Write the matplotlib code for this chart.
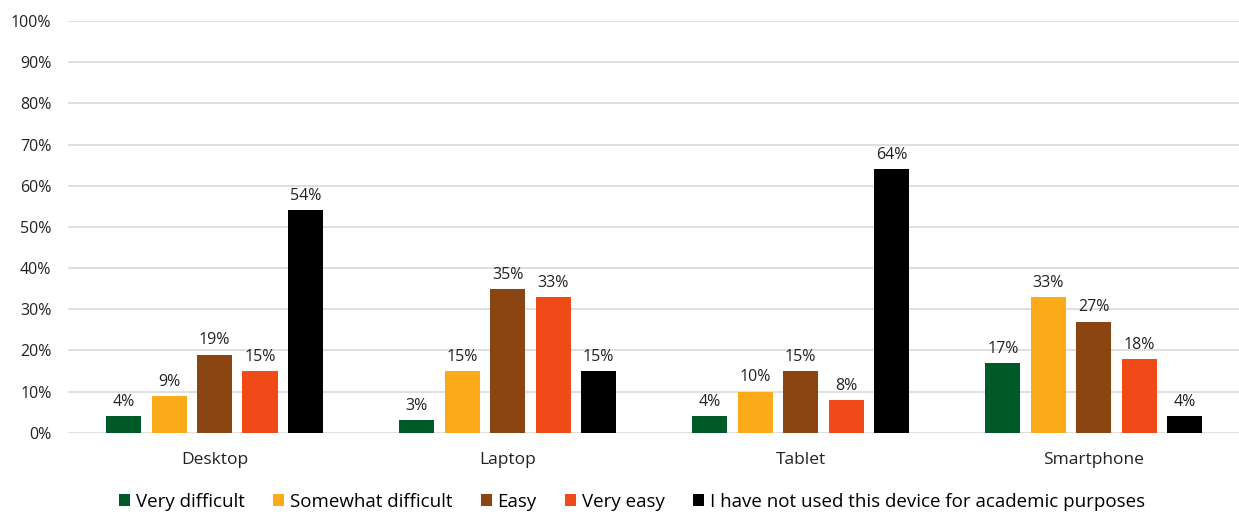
import matplotlib
matplotlib.use("Agg")
import matplotlib.pyplot as plt
import numpy as np

devices = ["Desktop", "Laptop", "Tablet", "Smartphone"]
series = ["Very difficult", "Somewhat difficult", "Easy", "Very easy",
          "I have not used this device for academic purposes"]
very_difficult = [4, 3, 4, 17]
somewhat_difficult = [9, 15, 10, 33]
easy = [19, 35, 15, 27]
very_easy = [15, 33, 8, 18]
not_used = [54, 15, 64, 4]
values = [very_difficult, somewhat_difficult, easy, very_easy, not_used]
colors = ["#005A28", "#FBAA19", "#8B4513", "#F04A19", "#000000"]

plt.rcParams['font.family'] = ['Open Sans', 'DejaVu Sans']

fig = plt.figure(figsize=(12.39, 5.14), dpi=100)
ax = fig.add_axes([0.055, 0.158, 0.946, 0.801])

x = np.arange(len(devices))
pitch = 0.155
width = 0.12
for i, (name, vals, c) in enumerate(zip(series, values, colors)):
    pos = x + (i - 2) * pitch
    bars = ax.bar(pos, vals, width, color=c, label=name, zorder=3)
    for b, v in zip(bars, vals):
        ax.text(b.get_x() + b.get_width() / 2, v + 1.5, f"{v}%",
                ha="center", va="bottom", fontsize=11.5, color="#222222")

ax.set_xlim(-0.5, 3.5)
ax.set_ylim(0, 100)
ax.set_yticks(range(0, 101, 10))
ax.set_yticklabels([f"{t}%" for t in range(0, 101, 10)], fontsize=11.5, color="#222222")
ax.set_xticks(x)
ax.set_xticklabels(devices, fontsize=12.5, color="#222222")
ax.tick_params(axis="both", length=0)
ax.tick_params(axis="y", pad=12)
ax.tick_params(axis="x", pad=14)
ax.grid(axis="y", color="#d9d9d9", linewidth=1.2, zorder=0)
for s in ax.spines.values():
    s.set_visible(False)

ax.legend(loc="upper center", bbox_to_anchor=(0.481, -0.105), ncol=5,
          frameon=False, fontsize=13.5, handlelength=0.6, handleheight=0.6,
          handletextpad=0.3, columnspacing=1.5)

fig.savefig("out.png", dpi=100)
